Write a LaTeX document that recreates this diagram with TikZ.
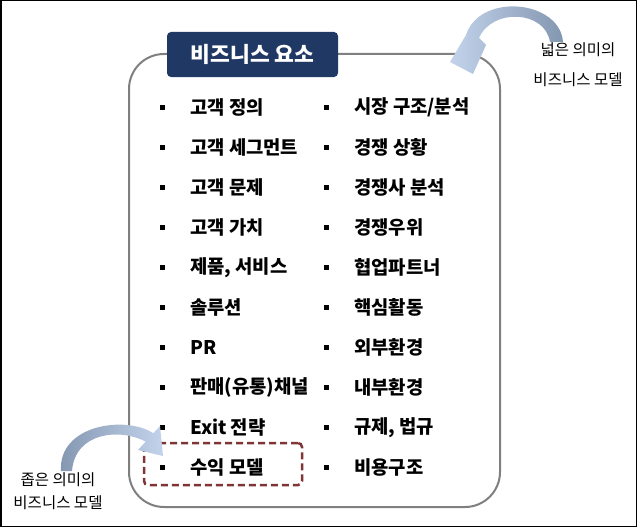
\documentclass[tikz,border=0pt]{standalone}
\usepackage{fontspec}
\setmainfont{Noto Sans CJK KR}
\usepackage{tikz}
\usetikzlibrary{positioning}
\definecolor{navy}{HTML}{1F3864}
\definecolor{boxgray}{HTML}{7F7F7F}
\definecolor{dashred}{HTML}{7F3535}
\definecolor{arrdark}{HTML}{8497B0}
\definecolor{arrlight}{HTML}{C3D3EC}

\begin{document}
\begin{tikzpicture}[x=1pt,y=-1pt,
   item/.style={anchor=west,inner sep=0pt,font=\bfseries\fontsize{18.8}{22}\selectfont,
      label={[bullet,label distance=24.5pt]west:{}}},
   bullet/.style={rectangle,fill=black,minimum size=5pt,inner sep=0pt},
   titlebox/.style={fill=navy,rounded corners=4pt,minimum width=171pt,minimum height=45pt,
      text=white,font=\bfseries\fontsize{21.5}{24}\selectfont},
   note/.style={align=center,inner sep=0pt}]
\useasboundingbox (0,0) rectangle (637,527);
\draw[line width=1.5pt] (0.75,0.75) rectangle (636.25,526.25);
% big box
\draw[boxgray,line width=2pt,rounded corners=35pt] (129,54) rectangle (500,507);
\node[titlebox] (title) at (252.5,54.5) {비즈니스 요소};
% items
\foreach \txt [count=\i] in {고객 정의,고객 세그먼트,고객 문제,고객 가치,{제품, 서비스},
   솔루션,PR,판매(유통)채널,Exit 전략,수익 모델}
   \node[item] (l\i) at (190,{107+40.1*(\i-1)}) {\txt};
\foreach \txt [count=\i] in {시장 구조/분석,경쟁 상황,경쟁사 분석,경쟁우위,협업파트너,
   핵심활동,외부환경,내부환경,{규제, 법규},비용구조}
   \node[item] (r\i) at (354,{107+40.1*(\i-1)}) {\txt};
% narrow model
\node[draw=dashred,line width=2.5pt,dash pattern=on 7pt off 4pt,rounded corners=4pt,
   minimum width=158pt,minimum height=42pt] (narrow) at (223,464) {};
% curved arrows
\shade[left color=arrlight,right color=arrdark]
   (563,42) .. controls (560,0) and (480,-8) .. (466,35) -- (450,62) -- (473,74)
   -- (486,45) -- (479,38) .. controls (492,8) and (545,10) .. (550,42) -- cycle;
\shade[left color=arrdark,right color=arrlight]
   (61,471) .. controls (58,425) and (125,415) .. (153.4,433.2) -- (160,426) -- (163,456)
   -- (138,450) -- (145.7,441.6) .. controls (120,428) and (75,432) .. (72,471) -- cycle;
% notes
\node[note,font=\fontsize{15.5}{30}\selectfont] (wide) at (578,65) {넓은 의미의\\비즈니스 모델};
\node[note,font=\fontsize{15.5}{23}\selectfont] (small) at (58,491) {좁은 의미의\\비즈니스 모델};
\end{tikzpicture}
\end{document}
